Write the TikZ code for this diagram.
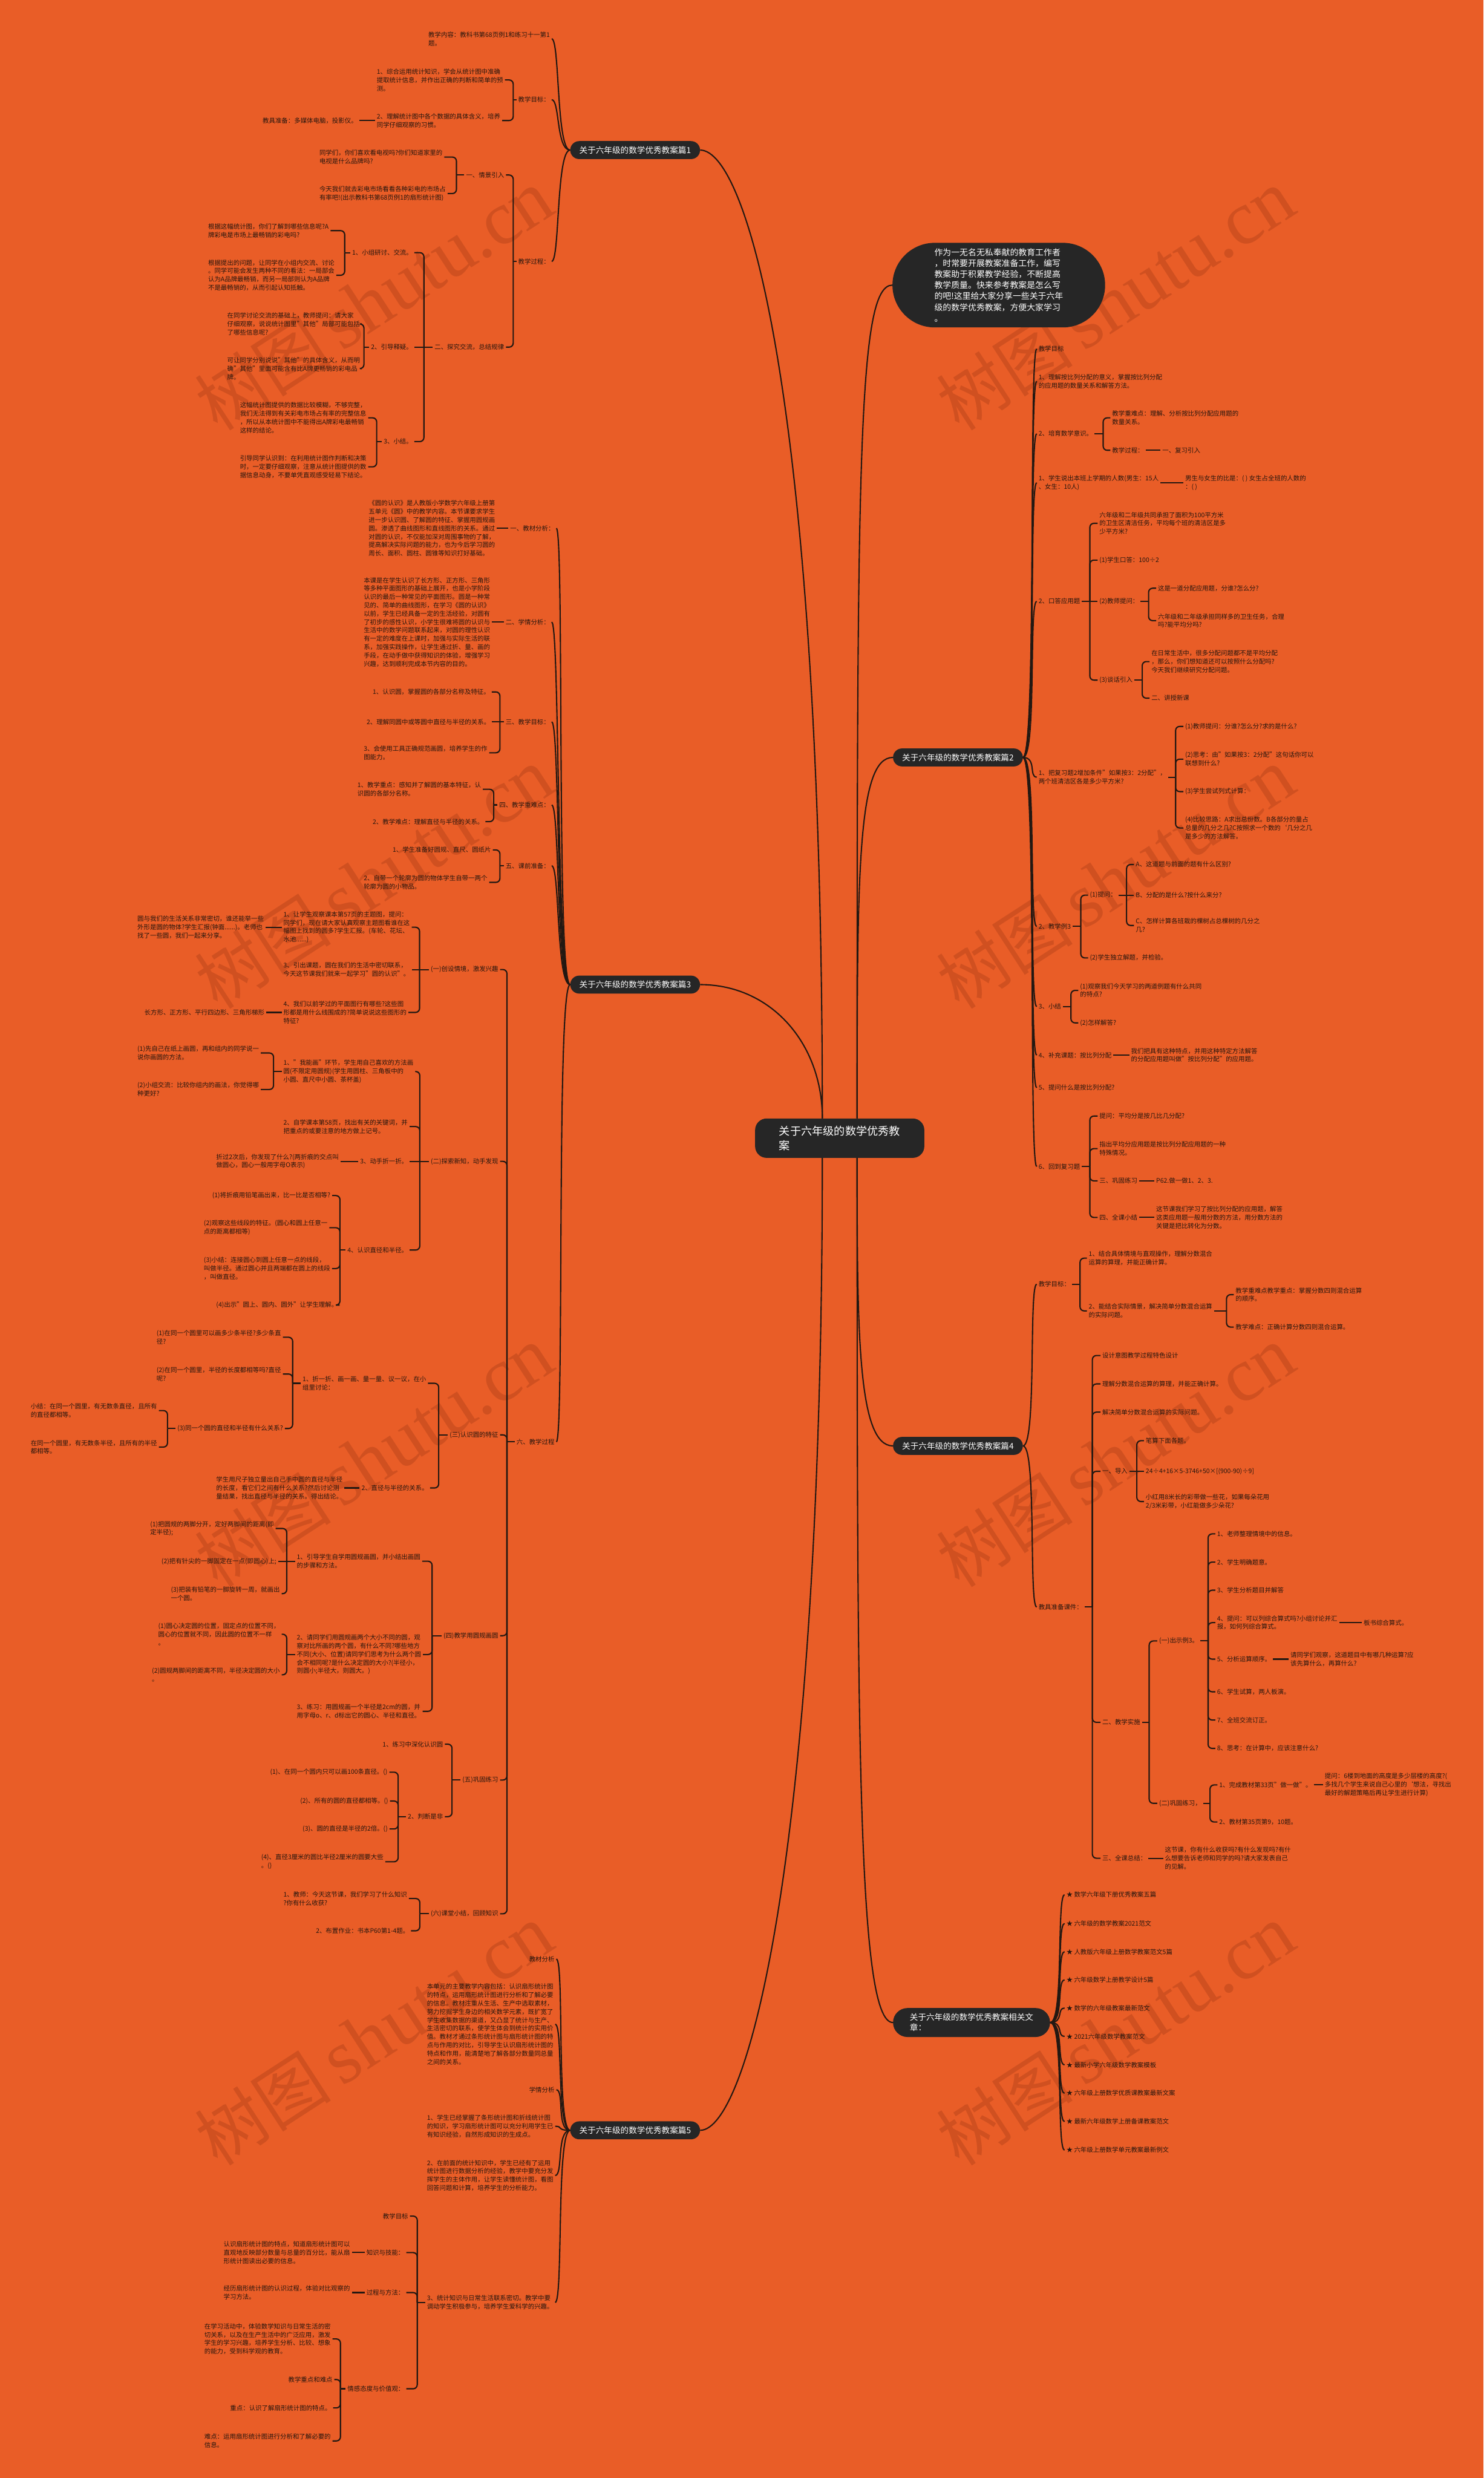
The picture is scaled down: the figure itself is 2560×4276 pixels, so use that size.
\documentclass[tikz,border=0pt]{standalone}
\usepackage{fontspec}
\setmainfont{Noto Sans CJK SC}
\newfontfamily\wmserif{Liberation Serif}
\usetikzlibrary{calc}
\definecolor{bgc}{RGB}{233,93,39}
\definecolor{txt}{RGB}{38,22,14}
\definecolor{lnc}{RGB}{35,24,18}
\definecolor{dark}{RGB}{38,38,38}
\definecolor{wmc}{RGB}{110,30,8}
\tikzset{
  lf/.style={font=\fontsize{10.9}{14.4}\selectfont, text=txt, align=left, inner xsep=3pt, inner ysep=1pt},
  le/.style={lf, anchor=east},
  lw/.style={lf, anchor=west},
  mn/.style={fill=dark, text=white, font=\fontsize{14.2}{19}\selectfont, rounded corners=15.5pt, minimum width=224pt, minimum height=31pt, inner sep=0pt, align=center},
  brc/.style={draw=lnc, line width=2.2pt, rounded corners=7pt},
  cvc/.style={draw=lnc, line width=2.2pt},
  wm/.style={text=wmc, text opacity=0.2, rotate=33, inner sep=0pt, font=\fontsize{118}{118}\selectfont},
}
\newcommand\LB[3]{%
  \coordinate (s#1) at (#2,0 |- #1.west);
  \draw[brc] (#1.west) -- (s#1);
  \foreach \ch in {#3}{\draw[brc] (s#1) |- (\ch.east);}}
\newcommand\RB[3]{%
  \coordinate (s#1) at (#2,0 |- #1.east);
  \draw[brc] (#1.east) -- (s#1);
  \foreach \ch in {#3}{\draw[brc] (s#1) |- (\ch.west);}}
\newcommand\LS[2]{\draw[brc] (#1.west) -- (#2.east);}
\newcommand\RS[2]{\draw[brc] (#1.east) -- (#2.west);}
\newcommand\LC[2]{\foreach \ch in {#2}{\draw[cvc] (#1.west) .. controls +(-24,0) and +(14,0) .. (\ch.east);}}
\newcommand\RC[2]{\foreach \ch in {#2}{\draw[cvc] (#1.east) .. controls +(24,0) and +(-14,0) .. (\ch.west);}}
\begin{document}
\begin{tikzpicture}[x=1pt,y=-1pt]
\path[use as bounding box] (0,0) rectangle (2560,4276);
\fill[bgc] (0,0) rectangle (2560,4276);
% watermarks
\foreach \i/\wx/\wy in {1/645/518,2/1925/518,3/645/1516,4/1925/1516,5/645/2514,6/1925/2514,7/645/3512,8/1925/3512}{
  \node[wm] (wm\i) at (\wx,\wy) {树图\,{\wmserif\fontsize{132}{132}\selectfont shutu.cn}};}
% ===== main nodes
\node[fill=dark,text=white,rounded corners=20pt,minimum width=292pt,minimum height=68pt,inner sep=0pt,align=left,font=\fontsize{19}{25}\selectfont] (C) at (1449,1964) {关于六年级的数学优秀教\\案};
\node[fill=dark,text=white,rounded corners=73pt,minimum width=367pt,minimum height=146pt,inner sep=0pt,align=left,font=\fontsize{14.5}{19}\selectfont] (I) at (1723.5,492) {作为一无名无私奉献的教育工作者\\，时常要开展教案准备工作，编写\\教案助于积累教学经验，不断提高\\教学质量。快来参考教案是怎么写\\的吧!这里给大家分享一些关于六年\\级的数学优秀教案，方便大家学习\\。};
\node[mn] (B1) at (1096,259) {关于六年级的数学优秀教案篇1};
\node[mn] (B3) at (1096,1699) {关于六年级的数学优秀教案篇3};
\node[mn] (B5) at (1096,3676) {关于六年级的数学优秀教案篇5};
\node[mn] (B2) at (1653,1307) {关于六年级的数学优秀教案篇2};
\node[mn] (B4) at (1653,2495) {关于六年级的数学优秀教案篇4};
\node[mn,minimum width=271pt,minimum height=50pt,rounded corners=25pt,align=left,font=\fontsize{14.2}{18}\selectfont] (R) at (1676.5,3490) {关于六年级的数学优秀教案相关文\\章：};
% ===== Branch 1
\node[le] (a1) at (952,67) {教学内容：教科书第68页例1和练习十一第1\\题。};
\node[le] (a2) at (952,172) {教学目标：};
\node[le] (a3) at (952,451) {教学过程：};
\node[lw] (a21) at (647,138) {1、综合运用统计知识，学会从统计图中准确\\提取统计信息，并作出正确的判断和简单的预\\测。};
\node[lw] (a22) at (647,208) {2、理解统计图中各个数据的具体含义，培养\\同学仔细观察的习惯。};
\node[lw] (a221) at (450,208) {教具准备：多媒体电脑，投影仪。};
\node[le] (a31) at (873,302) {一、情景引入};
\node[le] (a32) at (873,599) {二、探究交流，总结规律};
\node[lw] (a311) at (548,271) {同学们，你们喜欢看电视吗?你们知道家里的\\电视是什么品牌吗?};
\node[lw] (a312) at (548,334) {今天我们就去彩电市场看看各种彩电的市场占\\有率吧!(出示教科书第68页例1的扇形统计图)};
\node[le] (a321) at (715,436) {1、小组研讨、交流。};
\node[le] (a322) at (715,599) {2、引导释疑。};
\node[le] (a323) at (715,762) {3、小结。};
\node[lw] (a3211) at (356,398) {根据这幅统计图，你们了解到哪些信息呢?A\\牌彩电是市场上最畅销的彩电吗?};
\node[lw] (a3212) at (356,475) {根据提出的问题，让同学在小组内交流、讨论\\。同学可能会发生两种不同的看法：一局部会\\认为A品牌最畅销，而另一局部则认为A品牌\\不是最畅销的，从而引起认知抵触。};
\node[lw] (a3221) at (389,559) {在同学讨论交流的基础上，教师提问：请大家\\仔细观察，说说统计图里"其他"局部可能包括\\了哪些信息呢?};
\node[lw] (a3222) at (389,636) {可让同学分别说说"其他"的具体含义，从而明\\确"其他"里面可能含有比A牌更畅销的彩电品\\牌。};
\node[lw] (a3231) at (411,721) {这幅统计图提供的数据比较模糊，不够完整，\\我们无法得到有关彩电市场占有率的完整信息\\，所以从本统计图中不能得出A牌彩电最畅销\\这样的结论。};
\node[lw] (a3232) at (411,805.6) {引导同学认识到：在利用统计图作判断和决策\\时，一定要仔细观察，注意从统计图提供的数\\据信息动身，不要单凭直观感受轻易下结论。};
% ===== Branch 3
\node[le] (c1) at (960,911.6) {一、教材分析：};
\node[le] (c2) at (952,1073.4) {二、学情分析：};
\node[le] (c3) at (952,1245.6) {三、教学目标：};
\node[le] (c4) at (952,1389) {四、教学重难点：};
\node[le] (c5) at (952,1494) {五、课前准备：};
\node[le] (c6) at (960,2488) {六、教学过程};
\node[lw] (c11) at (633,911.6) {《圆的认识》是人教版小学数学六年级上册第\\五单元《圆》中的教学内容。本节课要求学生\\进一步认识圆、了解圆的特征、掌握用圆规画\\圆。渗透了曲线图形和直线图形的关系。通过\\对圆的认识，不仅能加深对周围事物的了解，\\提高解决实际问题的能力，也为今后学习圆的\\周长、面积、圆柱、圆锥等知识打好基础。};
\node[lw] (c21) at (624.5,1073.4) {本课是在学生认识了长方形、正方形、三角形\\等多种平面图形的基础上展开，也是小学阶段\\认识的最后一种常见的平面图形。圆是一种常\\见的、简单的曲线图形，在学习《圆的认识》\\以前，学生已经具备一定的生活经验，对圆有\\了初步的感性认识，小学生很难将圆的认识与\\生活中的数学问题联系起来，对圆的理性认识\\有一定的难度在上课时，加强与实际生活的联\\系，加强实践操作，让学生通过折、量、画的\\手段，在动手做中获得知识的体验，增强学习\\兴趣，达到顺利完成本节内容的目的。};
\node[lw] (c31) at (640,1194) {1、认识圆，掌握圆的各部分名称及特征。};
\node[lw] (c32) at (629.5,1245.6) {2、理解同圆中或等圆中直径与半径的关系。};
\node[lw] (c33) at (624.5,1299) {3、会使用工具正确规范画圆，培养学生的作\\图能力。};
\node[lw] (c41) at (613.7,1362) {1、教学重点：感知并了解圆的基本特征，认\\识圆的各部分名称。};
\node[lw] (c42) at (640,1417.8) {2、教学难点：理解直径与半径的关系。};
\node[lw] (c51) at (674.5,1466.6) {1、学生准备好圆规、直尺、圆纸片};
\node[lw] (c52) at (624.5,1522.6) {2、自带一个轮廓为圆的物体学生自带一两个\\轮廓为圆的小物品。};
\node[le] (d1) at (863,1673) {(一)创设情境，激发兴趣};
\node[le] (d2) at (863,2004) {(二)探索新知，动手发现};
\node[le] (d3) at (863,2476) {(三)认识圆的特征};
\node[le] (d4) at (863,2822.5) {(四)教学用圆规画圆};
\node[le] (d5) at (863,3071.6) {(五)巩固练习};
\node[le] (d6) at (863,3302.4) {(六)课堂小结，回顾知识};
\node[lw] (d11) at (486,1600) {1、让学生观察课本第57页的主题图，提问：\\同学们，现在请大家认真观察主题图看谁在这\\幅图上找到的圆多?学生汇报。(车轮、花坛、\\水池......)};
\node[lw] (d12) at (486,1673) {3、引出课题，圆在我们的生活中密切联系，\\今天这节课我们就来一起学习"圆的认识"。};
\node[lw] (d13) at (486,1747) {4、我们以前学过的平面图行有哪些?这些图\\形都是用什么线围成的?简单说说这些图形的\\特征?};
\node[lw] (d111) at (234,1600) {圆与我们的生活关系非常密切，谁还能举一些\\外形是圆的物体?学生汇报(钟面......)。老师也\\找了一些圆，我们一起来分享。};
\node[lw] (d131) at (246,1747) {长方形、正方形、平行四边形、三角形梯形};
\node[lw] (d21) at (486,1849) {1、"我能画"环节，学生用自己喜欢的方法画\\圆(不限定用圆规)(学生用圆柱、三角板中的\\小圆、直尺中小圆、茶杯盖)};
\node[lw] (d22) at (486,1944) {2、自学课本第58页，找出有关的关键词，并\\把重点的或要注意的地方做上记号。};
\node[le] (d23) at (707,2004) {3、动手折一折。};
\node[le] (d24) at (707,2157) {4、认识直径和半径。};
\node[lw] (d211) at (234,1817) {(1)先自己在纸上画圆，再和组内的同学说一\\说你画圆的方法。};
\node[lw] (d212) at (234,1880) {(2)小组交流：比较你组内的画法，你觉得哪\\种更好?};
\node[lw] (d231) at (370,2004) {折过2次后，你发现了什么?(两折痕的交点叫\\做圆心，圆心一般用字母O表示)};
\node[lw] (d241) at (363,2063) {(1)将折痕用铅笔画出来，比一比是否相等?};
\node[lw] (d242) at (348.6,2118.5) {(2)观察这些线段的特征。(圆心和圆上任意一\\点的距离都相等)};
\node[lw] (d243) at (348.6,2189) {(3)小结：连接圆心到圆上任意一点的线段，\\叫做半径。通过圆心并且两端都在圆上的线段\\，叫做直径。};
\node[lw] (d244) at (370,2252) {(4)出示"圆上、圆内、圆外"让学生理解。};
\node[lw] (d31) at (519,2387) {1、折一折、画一画、量一量、议一议，在小\\组里讨论：};
\node[le] (d32) at (742,2567.6) {2、直径与半径的关系。};
\node[lw] (d311) at (267,2307.5) {(1)在同一个圆里可以画多少条半径?多少条直\\径?};
\node[lw] (d312) at (267,2371) {(2)在同一个圆里，半径的长度都相等吗?直径\\呢?};
\node[lw] (d313) at (303,2465) {(3)同一个圆的直径和半径有什么关系?};
\node[lw] (d3131) at (49.8,2434) {小结：在同一个圆里，有无数条直径，且所有\\的直径都相等。};
\node[lw] (d3132) at (49.8,2497) {在同一个圆里，有无数条半径，且所有的半径\\都相等。};
\node[lw] (d321) at (370,2567.6) {学生用尺子独立量出自己手中圆的直径与半径\\的长度，看它们之间有什么关系?然后讨论测\\量结果，找出直径与半径的关系。得出结论。};
\node[lw] (d41) at (509,2694) {1、引导学生自学用圆规画圆，并小结出画圆\\的步骤和方法。};
\node[lw] (d42) at (509,2855) {2、请同学们用圆规画两个大小不同的圆，观\\察对比所画的两个圆，有什么不同?哪些地方\\不同(大小、位置)请同学们思考为什么两个圆\\会不相同呢?是什么决定圆的大小?(半径小，\\则圆小;半径大，则圆大。)};
\node[lw] (d43) at (509,2953) {3、练习：用圆规画一个半径是2cm的圆，并\\用字母o、r、d标出它的圆心、半径和直径。};
\node[lw] (d411) at (256,2637.5) {(1)把圆规的两脚分开，定好两脚间的距离(即\\定半径);};
\node[lw] (d412) at (275.5,2694) {(2)把有针尖的一脚固定在一点(即圆心)上;};
\node[le] (d413) at (486,2750) {(3)把装有铅笔的一脚旋转一周，就画出\\一个圆。};
\node[le] (d421) at (486,2820) {(1)圆心决定圆的位置，固定点的位置不同，\\圆心的位置就不同，因此圆的位置不一样\\。};
\node[le] (d422) at (486,2890) {(2)圆规两脚间的距离不同，半径决定圆的大小\\。};
\node[le] (d51) at (767.6,3009.7) {1、练习中深化认识圆};
\node[le] (d52) at (767.6,3134.8) {2、判断是非};
\node[lw] (d521) at (463,3058) {(1)、在同一个圆内只可以画100条直径。()};
\node[lw] (d522) at (515,3107.8) {(2)、所有的圆的直径都相等。()};
\node[lw] (d523) at (519,3156) {(3)、圆的直径是半径的2倍。()};
\node[lw] (d524) at (447.6,3212.6) {(4)、直径3厘米的圆比半径2厘米的圆要大些\\。()};
\node[lw] (d61) at (486,3276) {1、教师：今天这节课，我们学习了什么知识\\?你有什么收获?};
\node[lw] (d62) at (542,3331.7) {2、布置作业：书本P60第1-4题。};
% ===== Branch 5
\node[le] (e1) at (960,3380.5) {教材分析};
\node[lw] (e2) at (733.6,3493) {本单元的主要教学内容包括：认识扇形统计图\\的特点，运用扇形统计图进行分析和了解必要\\的信息。教材注重从生活、生产中选取素材，\\努力挖掘学生身边的相关数学元素，既扩宽了\\学生收集数据的渠道，又凸显了统计与生产、\\生活密切的联系，使学生体会到统计的实用价\\值。教材才通过条形统计图与扇形统计图的特\\点与作用的对比，引导学生认识扇形统计图的\\特点和作用，能清楚地了解各部分数量同总量\\之间的关系。};
\node[le] (e3) at (960,3606) {学情分析};
\node[lw] (e4) at (733.6,3669) {1、学生已经掌握了条形统计图和折线统计图\\的知识，学习扇形统计图可以充分利用学生已\\有知识经验，自然形成知识的生成点。};
\node[lw] (e5) at (733.6,3754) {2、在前面的统计知识中，学生已经有了运用\\统计图进行数据分析的经验，教学中要充分发\\挥学生的主体作用，让学生读懂统计图，看图\\回答问题和计算，培养学生的分析能力。};
\node[lw] (e6) at (733.6,3973) {3、统计知识与日常生活联系密切。教学中要\\调动学生积极参与，培养学生爱科学的兴趣。};
\node[le] (e61) at (707.5,3824) {教学目标};
\node[le] (e62) at (701,3887) {知识与技能：};
\node[le] (e63) at (701,3956) {过程与方法：};
\node[le] (e64) at (701,4122) {情感态度与价值观：};
\node[lw] (e621) at (382.7,3887) {认识扇形统计图的特点，知道扇形统计图可以\\直观地反映部分数量与总量的百分比，能从扇\\形统计图读出必要的信息。};
\node[lw] (e631) at (382.7,3956) {经历扇形统计图的认识过程，体验对比观察的\\学习方法。};
\node[lw] (e641) at (349.5,4036) {在学习活动中，体验数学知识与日常生活的密\\切关系，以及在生产生活中的广泛应用，激发\\学生的学习兴趣，培养学生分析、比较、想象\\的能力，受到科学观的教育。};
\node[le] (e642) at (577,4106) {教学重点和难点};
\node[lw] (e643) at (394,4155) {重点：认识了解扇形统计图的特点。};
\node[lw] (e644) at (349.5,4212) {难点：运用扇形统计图进行分析和了解必要的\\信息。};
% ===== Branch 2
\node[lw] (f1) at (1789,602) {教学目标};
\node[lw] (f2) at (1789,658) {1、理解按比列分配的意义，掌握按比列分配\\的应用题的数量关系和解答方法。};
\node[lw] (f3) at (1789,748.4) {2、培育数学意识。};
\node[lw] (f31) at (1916,721) {教学重难点：理解、分析按比列分配应用题的\\数量关系。};
\node[lw] (f32) at (1916,777) {教学过程：};
\node[lw] (f321) at (2002.6,777) {一、复习引入};
\node[lw] (f4) at (1789,833) {1、学生说出本班上学期的人数(男生：15人\\、女生：10人)};
\node[lw] (f41) at (2042,833) {男生与女生的比是：( ) 女生占全班的人数的\\：( )};
\node[lw] (f5) at (1789,1037.7) {2、口答应用题};
\node[lw] (f51) at (1894,903) {六年级和二年级共同承担了面积为100平方米\\的卫生区清洁任务，平均每个班的清洁区是多\\少平方米?};
\node[lw] (f52) at (1894,966.5) {(1)学生口答：100÷2};
\node[lw] (f53) at (1894,1037.7) {(2)教师提问：};
\node[lw] (f531) at (1995,1015) {这是一道分配应用题，分谁?怎么分?};
\node[lw] (f532) at (1995,1071) {六年级和二年级承担同样多的卫生任务，合理\\吗?能平均分吗?};
\node[lw] (f54) at (1894,1173.6) {(3)谈话引入};
\node[lw] (f541) at (1983.7,1141.6) {在日常生活中，很多分配问题都不是平均分配\\，那么，你们想知道还可以按照什么分配吗?\\今天我们继续研究分配问题。};
\node[lw] (f542) at (1983.7,1204.7) {二、讲授新课};
\node[lw] (f6) at (1789,1341) {1、把复习题2增加条件"如果按3：2分配"，\\两个班清洁区各是多少平方米?};
\node[lw] (f61) at (2042,1253.5) {(1)教师提问：分谁?怎么分?求的是什么?};
\node[lw] (f62) at (2042,1310) {(2)思考：由"如果按3：2分配"这句话你可以\\联想到什么?};
\node[lw] (f63) at (2042,1366) {(3)学生尝试列式计算：};
\node[lw] (f64) at (2042,1428.7) {(4)比较思路：A求出总份数。B各部分的量占\\总量的几分之几?C按照求一个数的\symbol{96}几分之几\\是多少的方法解答。};
\node[lw] (f7) at (1789,1598.6) {2、教学例3};
\node[lw] (f71) at (1877.6,1544.6) {(1)提问：};
\node[lw] (f72) at (1877.6,1653) {(2)学生独立解题，并检验。};
\node[lw] (f711) at (1956.7,1491.8) {A、这道题与前面的题有什么区别?};
\node[lw] (f712) at (1956.7,1544.6) {B、分配的是什么?按什么来分?};
\node[lw] (f713) at (1956.7,1597) {C、怎样计算各班栽的棵树占总棵树的几分之\\几?};
\node[lw] (f8) at (1789,1737) {3、小结};
\node[lw] (f81) at (1860.7,1709) {(1)观察我们今天学习的两道例题有什么共同\\的特点?};
\node[lw] (f82) at (1860.7,1765) {(2)怎样解答?};
\node[lw] (f9) at (1789,1820.7) {4、补充课题：按比列分配};
\node[lw] (f91) at (1948.6,1820.7) {我们把具有这种特点，并用这种特定方法解答\\的分配应用题叫做"按比列分配"的应用题。};
\node[lw] (f10) at (1789,1877) {5、提问什么是按比列分配?};
\node[lw] (f11) at (1789,2013) {6、回到复习题};
\node[lw] (f111) at (1894,1925.8) {提问：平均分是按几比几分配?};
\node[lw] (f112) at (1894,1982) {指出平均分应用题是按比列分配应用题的一种\\特殊情况。};
\node[lw] (f113) at (1894,2037.7) {三、巩固练习};
\node[lw] (f1131) at (1992,2037.7) {P62.做一做1、2、3.};
\node[lw] (f114) at (1894,2100.8) {四、全课小结};
\node[lw] (f1141) at (1992,2100.8) {这节课我们学习了按比列分配的应用题，解答\\这类应用题一般用分数的方法，用分数方法的\\关键是把比转化为分数。};
% ===== Branch 4
\node[lw] (g1) at (1789,2216) {教学目标：};
\node[lw] (g11) at (1875.6,2171) {1、结合具体情境与直观操作，理解分数混合\\运算的算理，并能正确计算。};
\node[lw] (g12) at (1875.6,2262) {2、能结合实际情景，解决简单分数混合运算\\的实际问题。};
\node[lw] (g121) at (2129,2234) {教学重难点教学重点：掌握分数四则混合运算\\的顺序。};
\node[lw] (g122) at (2129,2290) {教学难点：正确计算分数四则混合运算。};
\node[lw] (g2) at (1789,2773) {教具准备课件：};
\node[lw] (g21) at (1899,2339) {设计意图教学过程特色设计};
\node[lw] (g22) at (1899,2388) {理解分数混合运算的算理，并能正确计算。};
\node[lw] (g23) at (1899,2436.7) {解决简单分数混合运算的实际问题。};
\node[lw] (g24) at (1899,2538.8) {一、导入};
\node[lw] (g241) at (1974,2486) {笔算下面各题。};
\node[lw] (g242) at (1974,2538.8) {24÷4+16×5-3746+50×[(900-90)÷9]};
\node[lw] (g243) at (1974,2591) {小红用8米长的彩带做一些花，如果每朵花用\\2/3米彩带，小红能做多少朵花?};
\node[lw] (g25) at (1899,2972) {二、教学实施};
\node[lw] (g251) at (1997,2831.6) {(一)出示例3。};
\node[lw] (g2511) at (2097,2646.8) {1、老师整理情境中的信息。};
\node[lw] (g2512) at (2097,2695.5) {2、学生明确题意。};
\node[lw] (g2513) at (2097,2744) {3、学生分析题目并解答};
\node[lw] (g2514) at (2097,2800) {4、提问：可以列综合算式吗?小组讨论并汇\\报，如何列综合算式。};
\node[lw] (g25141) at (2350,2800) {板书综合算式。};
\node[lw] (g2515) at (2097,2863) {5、分析运算顺序。};
\node[lw] (g25151) at (2223.7,2863) {请同学们观察，这道题目中有哪几种运算?应\\该先算什么，再算什么?};
\node[lw] (g2516) at (2097,2919.4) {6、学生试算，两人板演。};
\node[lw] (g2517) at (2097,2968) {7、全班交流订正。};
\node[lw] (g2518) at (2097,3017) {8、思考：在计算中，应该注意什么?};
\node[lw] (g252) at (1997,3111.75) {(二)巩固练习，};
\node[lw] (g2521) at (2100.7,3080) {1、完成教材第33页"做一做"。};
\node[lw] (g25211) at (2283,3080) {提问：6楼到地面的高度是多少层楼的高度?(\\多找几个学生来说自己心里的\symbol{96}想法，寻找出\\最好的解题策略后再让学生进行计算)};
\node[lw] (g2522) at (2100.7,3144) {2、教材第35页第9，10题。};
\node[lw] (g26) at (1899,3206.5) {三、全课总结：};
\node[lw] (g261) at (2007,3206.5) {这节课，你有什么收获吗?有什么发现吗?有什\\么想要告诉老师和同学的吗?请大家发表自己\\的见解。};
% ===== Related
\node[lw] (r1) at (1837,3269.6) {★ 数学六年级下册优秀教案五篇};
\node[lw] (r2) at (1837,3319) {★ 六年级的数学教案2021范文};
\node[lw] (r3) at (1837,3367.8) {★ 人教版六年级上册数学教案范文5篇};
\node[lw] (r4) at (1837,3416.5) {★ 六年级数学上册教学设计5篇};
\node[lw] (r5) at (1837,3465) {★ 数学的六年级教案最新范文};
\node[lw] (r6) at (1837,3514) {★ 2021六年级数学教案范文};
\node[lw] (r7) at (1837,3563) {★ 最新小学六年级数学教案模板};
\node[lw] (r8) at (1837,3612) {★ 六年级上册数学优质课教案最新文案};
\node[lw] (r9) at (1837,3661) {★ 最新六年级数学上册备课教案范文};
\node[lw] (r10) at (1837,3710) {★ 六年级上册数学单元教案最新例文};
% ===== connectors: centre
\coordinate (ctl) at ($(C.north)+(-30,0)$);
\coordinate (ctr) at ($(C.north)+(30,0)$);
\coordinate (cbl) at ($(C.south)+(-30,0)$);
\coordinate (cbr) at ($(C.south)+(30,0)$);
\draw[cvc] (B1.east) .. controls (1290,259) and (1419,700) .. (ctl);
\draw[cvc] (B3.east) .. controls (1330,1699) and (1419,1800) .. (ctl);
\draw[cvc] (B5.east) .. controls (1290,3676) and (1419,3200) .. (cbl);
\draw[cvc] (ctr) .. controls (1479,800) and (1480,492) .. (I.west);
\draw[cvc] (ctr) .. controls (1479,1500) and (1480,1307) .. (B2.west);
\draw[cvc] (cbr) .. controls (1479,2300) and (1480,2495) .. (B4.west);
\draw[cvc] (cbr) .. controls (1479,3000) and (1480,3490) .. (R.west);
% level 1
\LC{B1}{a1,a2,a3}
\LC{B3}{c1,c2,c3,c4,c5,c6}
\LC{B5}{e1,e2,e3,e4,e5,e6}
\RC{B2}{f1,f2,f3,f4,f5,f6,f7,f8,f9,f10,f11}
\RC{B4}{g1,g2}
\RC{R}{r1,r2,r3,r4,r5,r6,r7,r8,r9,r10}
% branch 1 braces
\LB{a2}{885.6}{a21,a22}
\LS{a22}{a221}
\LB{a3}{885.6}{a31,a32}
\LB{a31}{787.6}{a311,a312}
\LB{a32}{731.5}{a321,a323}
\draw[brc] (sa32) -- (a322.east);
\LB{a321}{594.8}{a3211,a3212}
\LB{a322}{628}{a3221,a3222}
\LB{a323}{650}{a3231,a3232}
% branch 3 braces
\LS{c1}{c11}
\LS{c2}{c21}
\LB{c3}{862.7}{c31,c33}
\draw[brc] (sc3) -- (c32.east);
\LB{c4}{852}{c41,c42}
\LB{c5}{862.7}{c51,c52}
\LB{c6}{874.8}{d1,d2,d3,d4,d5,d6}
\LB{d1}{724}{d11,d13}
\draw[brc] (sd1) -- (d12.east);
\LS{d11}{d111}
\LS{d13}{d131}
\LB{d2}{724.4}{d21,d22,d24}
\draw[brc] (sd2) -- (d23.east);
\LB{d21}{472}{d211,d212}
\LS{d23}{d231}
\LB{d24}{586.6}{d241,d242,d243,d244}
\LB{d3}{757}{d31,d32}
\LB{d31}{505}{d311,d312,d313}
\LB{d313}{289}{d3131,d3132}
\LS{d32}{d321}
\LB{d4}{745.6}{d41,d42,d43}
\LB{d41}{494.8}{d411,d413}
\draw[brc] (sd41) -- (d412.east);
\LB{d42}{494.8}{d421,d422}
\LB{d5}{780}{d51,d52}
\LB{d52}{687}{d521,d522,d523,d524}
\LB{d6}{724.4}{d61,d62}
% branch 5 braces
\LB{e6}{720}{e61,e62,e63,e64}
\LS{e62}{e621}
\LS{e63}{e631}
\LB{e64}{587.5}{e641,e642,e643,e644}
% branch 2 braces
\RB{f3}{1903.6}{f31,f32}
\RS{f32}{f321}
\RS{f4}{f41}
\RB{f5}{1880.6}{f51,f52,f54}
\draw[brc] (sf5) -- (f53.west);
\RB{f53}{1982}{f531,f532}
\RB{f54}{1971}{f541,f542}
\RB{f6}{2028.6}{f61,f62,f63,f64}
\RB{f7}{1865}{f71,f72}
\RB{f71}{1944}{f711,f713}
\draw[brc] (sf71) -- (f712.west);
\RB{f8}{1848}{f81,f82}
\RS{f9}{f91}
\RB{f11}{1880.6}{f111,f112,f113,f114}
\RS{f113}{f1131}
\RS{f114}{f1141}
% branch 4 braces
\RB{g1}{1863.7}{g11,g12}
\RB{g12}{2116.5}{g121,g122}
\RB{g2}{1885}{g21,g22,g23,g24,g25,g26}
\RB{g24}{1961.7}{g241,g243}
\draw[brc] (sg24) -- (g242.west);
\RB{g25}{1983}{g251,g252}
\RB{g251}{2084.7}{g2511,g2512,g2513,g2514,g2515,g2516,g2517,g2518}
\RS{g2514}{g25141}
\RS{g2515}{g25151}
\RB{g252}{2088}{g2521,g2522}
\RS{g2521}{g25211}
\RS{g26}{g261}
\end{tikzpicture}
\end{document}
